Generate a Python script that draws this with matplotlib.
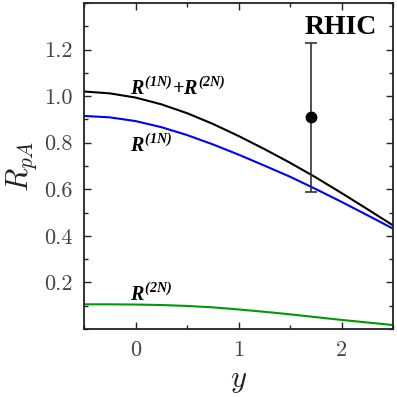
import matplotlib
matplotlib.use("Agg")
import matplotlib.pyplot as plt
from matplotlib.ticker import MultipleLocator, FormatStrFormatter

# rapidity grid and curves
y_vals = [-0.5, -0.25, 0.0, 0.25, 0.5, 0.75, 1.0, 1.25, 1.5, 1.75, 2.0, 2.25, 2.5]
r_1n = [0.915, 0.909, 0.893, 0.867, 0.833, 0.793, 0.749, 0.702, 0.654, 0.601, 0.546, 0.489, 0.431]
r_2n = [0.106, 0.106, 0.105, 0.103, 0.099, 0.093, 0.084, 0.074, 0.063, 0.051, 0.039, 0.028, 0.017]
r_sum = [1.020, 1.012, 0.994, 0.965, 0.927, 0.881, 0.829, 0.773, 0.714, 0.651, 0.584, 0.515, 0.445]

# RHIC data point
data_y = [1.7]
data_r = [0.91]
data_err_lo = [0.32]
data_err_hi = [0.32]

plt.rcParams["font.family"] = ["cmr10", "DejaVu Serif"]
plt.rcParams["mathtext.fontset"] = "custom"
plt.rcParams["mathtext.rm"] = "cmr10"
plt.rcParams["mathtext.it"] = "cmmi10"
plt.rcParams["mathtext.bf"] = "Liberation Serif:bold:italic"
plt.rcParams["axes.unicode_minus"] = False

fig = plt.figure(figsize=(3.97, 3.97), dpi=100)
ax = fig.add_axes([0.2116, 0.1713, 0.7784, 0.8211])

ax.plot(y_vals, r_sum, color="black", lw=1.5)
ax.plot(y_vals, r_1n, color="#0000ff", lw=1.5)
ax.plot(y_vals, r_2n, color="#009900", lw=1.5)

ax.errorbar(data_y, data_r, yerr=[data_err_lo, data_err_hi], fmt="o",
            color="black", ecolor="#333333", ms=7.5, elinewidth=1.2,
            capsize=4, capthick=1.2)

lab = dict(family="Liberation Serif", weight="bold", style="italic",
           fontsize=14.5, ha="left", va="baseline")
ax.text(-0.055, 1.005, r"$\mathbf{R}^{\mathbf{(1N)}}$+$\mathbf{R}^{\mathbf{(2N)}}$", **lab)
ax.text(-0.055, 0.762, r"$\mathbf{R}^{\mathbf{(1N)}}$", **lab)
ax.text(-0.055, 0.12, r"$\mathbf{R}^{\mathbf{(2N)}}$", **lab)
ax.text(1.99, 1.295, "RHIC", family="Liberation Serif", weight="bold",
        fontsize=20, ha="center", va="center")

ax.set_xlim(-0.5, 2.5)
ax.set_ylim(0.0, 1.4)
ax.xaxis.set_minor_locator(MultipleLocator(0.5))
ax.yaxis.set_minor_locator(MultipleLocator(0.1))
ax.yaxis.set_major_formatter(FormatStrFormatter("%.1f"))
ax.set_yticks([0.2, 0.4, 0.6, 0.8, 1.0, 1.2])
ax.set_xticks([0, 1, 2])

ax.tick_params(which="both", direction="in", top=True, right=True,
               colors="#222222", labelcolor="#444444", labelsize=16, pad=8)
ax.tick_params(which="major", length=5, width=1.0)
ax.tick_params(which="minor", length=3, width=1.0)
for s in ax.spines.values():
    s.set_linewidth(1.3)
    s.set_color("#222222")

ax.set_xlabel(r"$y$", fontsize=22, color="#222222", labelpad=6)
ax.set_ylabel(r"$R_{pA}$", fontsize=22, color="#222222", labelpad=4)

fig.savefig("out.png", dpi=100)
